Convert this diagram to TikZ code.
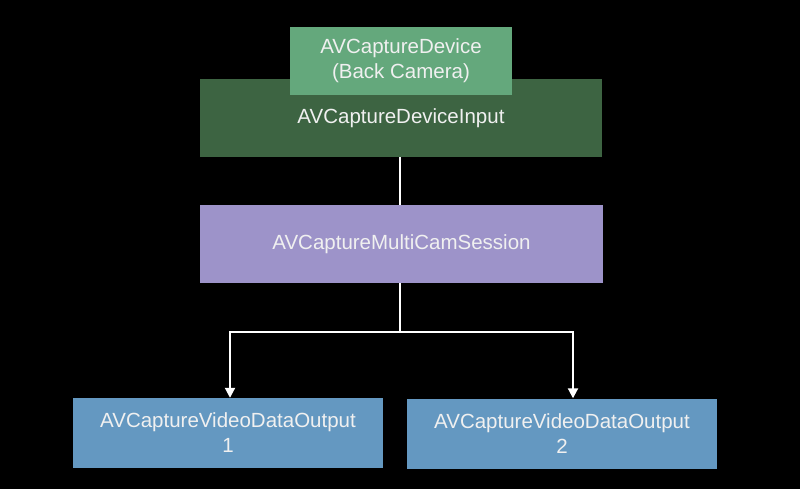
\documentclass[tikz,border=0pt]{standalone}
\usepackage{fontspec}
\setmainfont{Liberation Sans}
\usetikzlibrary{arrows.meta}
\definecolor{devgreen}{HTML}{64A87C}
\definecolor{inpgreen}{HTML}{3D6442}
\definecolor{sesspurple}{HTML}{9D93C9}
\definecolor{outblue}{HTML}{6498C1}
\definecolor{txt}{HTML}{F0F0F0}
\tikzset{
  boxstyle/.style={rectangle, inner sep=0pt, text=txt, align=center,
    font=\fontsize{20.5}{25}\selectfont},
  conn/.style={draw=white, line width=2pt},
  arr/.style={conn, -{Triangle[length=10pt,width=10pt]}}
}
\begin{document}
\begin{tikzpicture}[x=1pt,y=-1pt]
\useasboundingbox[fill=black] (0,0) rectangle (800,489);
\node[boxstyle, fill=inpgreen, minimum width=402pt, minimum height=78pt] (input) at (401,118) {AVCaptureDeviceInput};
\node[boxstyle, fill=devgreen, minimum width=222pt, minimum height=68pt] (device) at (401,61) {AVCaptureDevice\\(Back Camera)};
\node[boxstyle, fill=sesspurple, minimum width=403pt, minimum height=78pt] (session) at (401.5,244) {AVCaptureMultiCamSession};
\node[boxstyle, fill=outblue, minimum width=310pt, minimum height=70pt] (out1) at (228,433) {AVCaptureVideoDataOutput\\1};
\node[boxstyle, fill=outblue, minimum width=310pt, minimum height=70pt] (out2) at (562,433.5) {AVCaptureVideoDataOutput\\2};
\coordinate (split) at (400,332);
\coordinate (left) at (230,332);
\coordinate (right) at (573,332);
\draw[conn] (input.south -| split) -- (session.north -| split);
\draw[conn] (session.south -| split) -- (split);
\draw[arr] (split) -- (left) -- (left |- out1.north);
\draw[arr] (split) -- (right) -- (right |- out2.north);
\end{tikzpicture}
\end{document}
